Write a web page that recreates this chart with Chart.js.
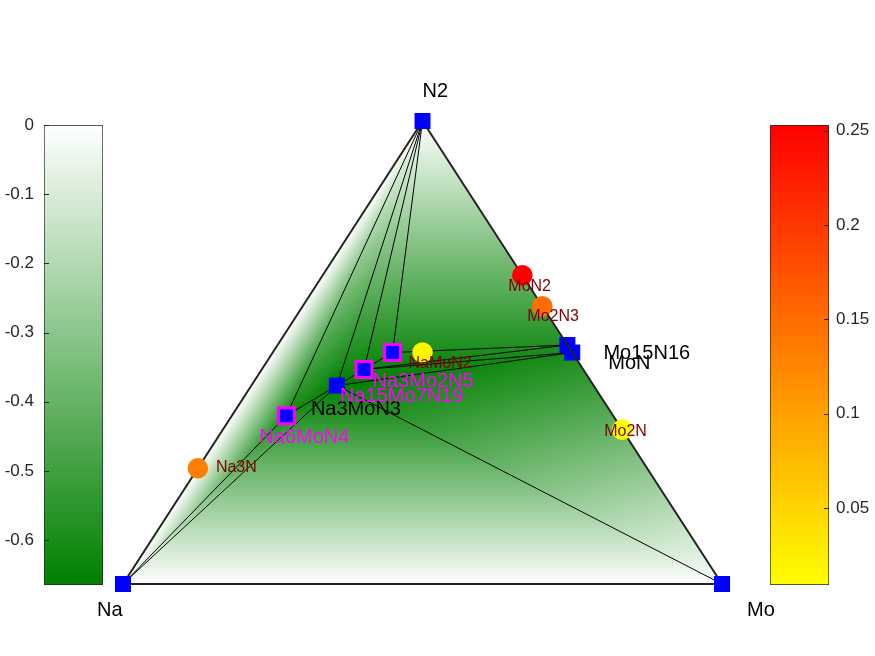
<!DOCTYPE html>
<html>
<head>
<meta charset="utf-8">
<script src="https://cdn.jsdelivr.net/npm/chart.js@4"></script>
<style>
  body { margin: 0; background: #fff; }
  #wrap { position: relative; width: 875px; height: 656px; }
  canvas { position: absolute; top: 0; }
</style>
</head>
<body>
<div id="wrap">
  <canvas id="main" width="875" height="656" style="left:0"></canvas>
  <canvas id="cbLeft" width="110" height="656" style="left:0"></canvas>
  <canvas id="cbRight" width="115" height="656" style="left:760px"></canvas>
</div>
<script>
// phases on the hull (atom counts Na, Mo, N) and formation energy (eV/atom)
const hullNames = ["Na", "Mo", "N2", "Na3MoN3", "Mo15N16", "MoN", "Na6MoN4", "Na15Mo7N19", "Na3Mo2N5"];
const hullNa = [1, 0, 0, 3, 0, 0, 6, 15, 3];
const hullMo = [0, 1, 0, 1, 15, 1, 1, 7, 2];
const hullN = [0, 0, 1, 3, 16, 1, 4, 19, 5];
const hullEnergy = [0, 0, 0, -0.665, -0.58, -0.6, -0.6, -0.64, -0.6];

const vertexNames = ["Na", "Mo", "N2"];
const stableNames = ["Na3MoN3", "Mo15N16", "MoN"];
const nearNames = ["Na6MoN4", "Na15Mo7N19", "Na3Mo2N5"];

// unstable phases and energy above hull (eV/atom)
const unstableNames = ["Na3N", "MoN2", "Mo2N3", "NaMoN2", "Mo2N"];
const unstableNa = [3, 0, 0, 1, 0];
const unstableMo = [0, 1, 2, 1, 2];
const unstableN = [1, 2, 3, 2, 1];
const unstableEhull = [0.131, 0.253, 0.148, 0.02, 0.0092];

// tie lines and triangles of the hull
const tieLines = [
  ["Na", "Na6MoN4"], ["Na", "Na3MoN3"], ["Na6MoN4", "Na3MoN3"],
  ["N2", "Na6MoN4"], ["N2", "Na3MoN3"], ["N2", "Na15Mo7N19"], ["N2", "Na3Mo2N5"],
  ["Na3MoN3", "Na15Mo7N19"], ["Na15Mo7N19", "Na3Mo2N5"],
  ["Na3Mo2N5", "Mo15N16"], ["Na15Mo7N19", "Mo15N16"], ["Na15Mo7N19", "MoN"],
  ["Na3MoN3", "MoN"], ["Na3MoN3", "Mo"]
];
const outerEdges = [["Na", "N2"], ["N2", "Mo"], ["Mo", "Na"]];
const triangles = [
  ["Na", "N2", "Na6MoN4"], ["Na", "Na6MoN4", "Na3MoN3"], ["Na6MoN4", "N2", "Na3MoN3"],
  ["Na3MoN3", "N2", "Na15Mo7N19"], ["Na15Mo7N19", "N2", "Na3Mo2N5"],
  ["Na3Mo2N5", "N2", "Mo15N16"], ["Na3Mo2N5", "Mo15N16", "Na15Mo7N19"],
  ["Na15Mo7N19", "Mo15N16", "MoN"], ["Na15Mo7N19", "MoN", "Na3MoN3"],
  ["Na3MoN3", "MoN", "Mo"], ["Na", "Na3MoN3", "Mo"]
];

// colorbars
const energyMin = -0.665, energyMax = 0;
const energyTicks = [0, -0.1, -0.2, -0.3, -0.4, -0.5, -0.6];
const ehullMin = 0.0092, ehullMax = 0.253;
const ehullTicks = [0.05, 0.1, 0.15, 0.2, 0.25];

// label offsets in pixels (left edge, middle)
const labelOffsets = {
  Na: [-26, 26], Mo: [25, 26], N2: [0, -30],
  Na3MoN3: [-26, 24], Mo15N16: [36, 8], MoN: [36, 11],
  Na6MoN4: [-27, 22], Na15Mo7N19: [-24, 27], Na3Mo2N5: [-20, 29],
  Na3N: [18, -1], MoN2: [-14, 11], Mo2N3: [-15, 10], NaMoN2: [-14, 11], Mo2N: [-18, 2]
};

const FONT = "'Liberation Sans', Arial, sans-serif";

function toXY(na, mo, n) {
  const s = na + mo + n;
  return { x: (mo + n / 2) / s, y: n / s };
}

const pos = {};
const energy = {};
hullNames.forEach((name, i) => {
  pos[name] = toXY(hullNa[i], hullMo[i], hullN[i]);
  energy[name] = hullEnergy[i];
});
unstableNames.forEach((name, i) => {
  pos[name] = toXY(unstableNa[i], unstableMo[i], unstableN[i]);
});

function greenColor(t) {
  return `rgb(${Math.round(255 * (1 - t))},${Math.round(255 - 127 * t)},${Math.round(255 * (1 - t))})`;
}
function heatColor(v) {
  const t = (v - ehullMin) / (ehullMax - ehullMin);
  return `rgb(255,${Math.round(255 * (1 - t))},0)`;
}

// DATASETS
const datasets = [];

tieLines.forEach(([a, b]) => {
  datasets.push({
    data: [pos[a], pos[b]], showLine: true, borderColor: "#000", borderWidth: 1,
    pointRadius: 0, order: 6, clip: false
  });
});

datasets.push({
  data: stableNames.map(n => pos[n]), pointStyle: "rect", pointRadius: 11.3,
  backgroundColor: "#0000ff", borderWidth: 0, order: 5, clip: false
});
datasets.push({
  data: nearNames.map(n => pos[n]), pointStyle: "rect", pointRadius: 11.3,
  backgroundColor: "#0000ff", borderColor: "#ff00ff", borderWidth: 3, order: 4, clip: false
});

outerEdges.forEach(([a, b]) => {
  datasets.push({
    data: [pos[a], pos[b]], showLine: true, borderColor: "#222", borderWidth: 2,
    pointRadius: 0, order: 3, clip: false
  });
});

datasets.push({
  data: vertexNames.map(n => pos[n]), pointStyle: "rect", pointRadius: 11.3,
  backgroundColor: "#0000ff", borderWidth: 0, order: 2, clip: false
});
datasets.push({
  data: unstableNames.map(n => pos[n]), pointStyle: "circle", pointRadius: 10.3,
  backgroundColor: unstableEhull.map(heatColor), borderWidth: 0, order: 1, clip: false
});

// SHADING (linear interpolation of energy over each hull triangle)
const shadePlugin = {
  id: "shade",
  beforeDatasetsDraw(chart) {
    const { ctx, scales: { x, y } } = chart;
    triangles.forEach(tri => {
      const p = tri.map(n => ({ x: x.getPixelForValue(pos[n].x), y: y.getPixelForValue(pos[n].y) }));
      const f = tri.map(n => energy[n] / energyMin);
      const d1x = p[1].x - p[0].x, d1y = p[1].y - p[0].y;
      const d2x = p[2].x - p[0].x, d2y = p[2].y - p[0].y;
      const det = d1x * d2y - d2x * d1y;
      const df1 = f[1] - f[0], df2 = f[2] - f[0];
      const a = (df1 * d2y - df2 * d1y) / det;
      const b = (d1x * df2 - d2x * df1) / det;
      const g2 = a * a + b * b;
      let fill;
      if (g2 < 1e-12) {
        fill = greenColor(f[0]);
      } else {
        const sx = p[0].x - f[0] * a / g2, sy = p[0].y - f[0] * b / g2;
        const grad = ctx.createLinearGradient(sx, sy, sx + a / g2, sy + b / g2);
        grad.addColorStop(0, greenColor(0));
        grad.addColorStop(1, greenColor(1));
        fill = grad;
      }
      ctx.save();
      ctx.beginPath();
      ctx.moveTo(p[0].x, p[0].y);
      ctx.lineTo(p[1].x, p[1].y);
      ctx.lineTo(p[2].x, p[2].y);
      ctx.closePath();
      ctx.fillStyle = fill;
      ctx.fill();
      ctx.restore();
    });
  }
};

// LABELS
const labelPlugin = {
  id: "labels",
  afterDatasetsDraw(chart) {
    const { ctx, scales: { x, y } } = chart;
    const put = (names, color, size) => {
      ctx.fillStyle = color;
      ctx.font = `${size}px ${FONT}`;
      names.forEach(n => {
        const o = labelOffsets[n];
        ctx.fillText(n, x.getPixelForValue(pos[n].x) + o[0], y.getPixelForValue(pos[n].y) + o[1]);
      });
    };
    ctx.save();
    ctx.textAlign = "left";
    ctx.textBaseline = "middle";
    put(vertexNames, "#000", 20);
    put(stableNames, "#000", 20);
    put(nearNames, "#ff00ff", 20);
    put(unstableNames, "#800000", 16);
    ctx.restore();
  }
};

new Chart(document.getElementById("main"), {
  type: "scatter",
  data: { datasets },
  options: {
    responsive: false,
    animation: false,
    layout: { padding: { left: 123, right: 153, top: 121, bottom: 72 } },
    plugins: { legend: { display: false }, tooltip: { enabled: false } },
    scales: {
      x: { type: "linear", min: 0, max: 1, display: false },
      y: { type: "linear", min: 0, max: 1, display: false }
    }
  },
  plugins: [shadePlugin, labelPlugin]
});

// COLORBARS
function tickMarks(side) {
  return {
    id: "tickMarks",
    afterDraw(chart) {
      const { ctx, chartArea, scales: { y } } = chart;
      ctx.save();
      ctx.strokeStyle = "#262626";
      ctx.lineWidth = 1;
      y.ticks.forEach(t => {
        const py = Math.round(y.getPixelForValue(t.value)) + 0.5;
        ctx.beginPath();
        if (side === "left") {
          ctx.moveTo(chartArea.left, py);
          ctx.lineTo(chartArea.left + 5, py);
        } else {
          ctx.moveTo(chartArea.right - 5, py);
          ctx.lineTo(chartArea.right, py);
        }
        ctx.stroke();
      });
      ctx.restore();
    }
  };
}

function colorbar(id, min, max, ticks, side, lowColor, highColor, padding) {
  new Chart(document.getElementById(id), {
    type: "bar",
    data: {
      labels: [""],
      datasets: [{
        data: [[min, max]],
        barPercentage: 1,
        categoryPercentage: 1,
        borderWidth: 1,
        borderColor: "#262626",
        borderSkipped: false,
        backgroundColor: (c) => {
          const ch = c.chart;
          if (!ch.chartArea) return lowColor;
          const ys = ch.scales.y;
          const g = ch.ctx.createLinearGradient(0, ys.getPixelForValue(min), 0, ys.getPixelForValue(max));
          g.addColorStop(0, lowColor);
          g.addColorStop(1, highColor);
          return g;
        }
      }]
    },
    options: {
      responsive: false,
      animation: false,
      layout: { padding },
      plugins: { legend: { display: false }, tooltip: { enabled: false } },
      scales: {
        x: { display: false },
        y: {
          type: "linear",
          position: side,
          min, max,
          afterFit: s => { s.width = side === "left" ? 44 : 46; },
          afterBuildTicks: s => { s.ticks = ticks.map(v => ({ value: v })); },
          grid: { display: false, drawTicks: false, tickLength: 0 },
          border: { display: false },
          ticks: {
            padding: side === "left" ? 10 : 7,
            color: "#262626",
            font: { family: FONT, size: 17 },
            callback: v => String(v)
          }
        }
      }
    },
    plugins: [tickMarks(side)]
  });
}

colorbar("cbLeft", energyMin, energyMax, energyTicks, "left", greenColor(1), greenColor(0),
  { left: 0, right: 7, top: 125, bottom: 71 });
colorbar("cbRight", ehullMin, ehullMax, ehullTicks, "right", heatColor(ehullMin), heatColor(ehullMax),
  { left: 10, right: 0, top: 125, bottom: 71 });
</script>
</body>
</html>
